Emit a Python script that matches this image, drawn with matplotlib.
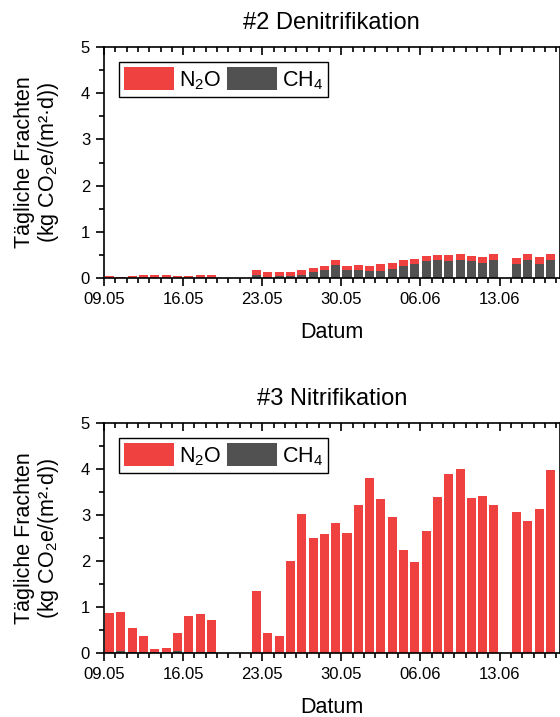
import pandas as pd
import numpy as np
import matplotlib.pyplot as plt
import matplotlib.dates as mdates
from matplotlib.patches import Patch

plt.rcParams['font.family'] = ['Liberation Sans', 'DejaVu Sans']
plt.rcParams['mathtext.fontset'] = 'custom'
plt.rcParams['mathtext.rm'] = 'Liberation Sans'
plt.rcParams['mathtext.it'] = 'Liberation Sans:italic'

# Messtage (keine Werte am 19.-21.05 und 13.06)
dates = ['09.05', '10.05', '11.05', '12.05', '13.05', '14.05', '15.05', '16.05', '17.05', '18.05',
         '22.05', '23.05', '24.05', '25.05', '26.05', '27.05', '28.05', '29.05', '30.05', '31.05',
         '01.06', '02.06', '03.06', '04.06', '05.06', '06.06', '07.06', '08.06', '09.06', '10.06',
         '11.06', '12.06', '14.06', '15.06', '16.06', '17.06']

# #2 Denitrifikation: Gesamt (N2O + CH4) und CH4-Anteil
deni_total = [0.04, 0.03, 0.04, 0.07, 0.07, 0.06, 0.05, 0.04, 0.06, 0.07,
              0.17, 0.12, 0.12, 0.14, 0.17, 0.22, 0.25, 0.40, 0.27, 0.29,
              0.27, 0.30, 0.32, 0.38, 0.42, 0.48, 0.50, 0.49, 0.52, 0.48,
              0.45, 0.52, 0.43, 0.53, 0.46, 0.52]
deni_ch4 = [0.01, 0.01, 0.01, 0.01, 0.01, 0.01, 0.01, 0.01, 0.01, 0.01,
            0.06, 0.03, 0.04, 0.04, 0.07, 0.13, 0.17, 0.29, 0.17, 0.17,
            0.16, 0.16, 0.19, 0.25, 0.30, 0.37, 0.38, 0.37, 0.39, 0.36,
            0.32, 0.39, 0.31, 0.40, 0.31, 0.38]

# #3 Nitrifikation
nitri_total = [0.86, 0.89, 0.55, 0.37, 0.09, 0.11, 0.43, 0.81, 0.84, 0.72,
               1.35, 0.44, 0.36, 2.01, 3.02, 2.50, 2.59, 2.83, 2.61, 3.22,
               3.80, 3.34, 2.96, 2.24, 1.98, 2.65, 3.39, 3.89, 3.99, 3.38,
               3.41, 3.21, 3.07, 2.88, 3.12, 3.98]
nitri_ch4 = [0.02, 0.05, 0.02, 0.03, 0.03, 0.03, 0.04, 0.03, 0.02, 0.02,
             0.01, 0.01, 0.01, 0.01, 0.01, 0.01, 0.01, 0.01, 0.01, 0.01,
             0.01, 0.01, 0.01, 0.01, 0.01, 0.01, 0.01, 0.01, 0.01, 0.01,
             0.01, 0.01, 0.01, 0.01, 0.01, 0.01]

red = '#f04141'
grey = '#515151'

start = pd.Timestamp('2023-05-09')
x = pd.to_datetime([d + '.2023' for d in dates], format='%d.%m.%Y') + pd.Timedelta(hours=12)
x = mdates.date2num(x)
x0 = mdates.date2num(start)

fig = plt.figure(figsize=(5.6, 7.17), dpi=100)
ax1 = fig.add_axes([104/560, 1-278/717, 455.5/560, 231/717])
ax2 = fig.add_axes([104/560, 1-653/717, 455.5/560, 230/717])

panels = [(ax1, '#2 Denitrifikation', deni_total, deni_ch4),
          (ax2, '#3 Nitrifikation', nitri_total, nitri_ch4)]

for ax, title, total, ch4 in panels:
    ch4 = np.array(ch4)
    n2o = np.array(total) - ch4
    ax.bar(x, ch4, width=0.8, color=grey, linewidth=0)
    ax.bar(x, n2o, width=0.8, bottom=ch4, color=red, linewidth=0)

    ax.set_xlim(x0, x0 + 40.3)
    ax.set_ylim(0, 5)
    ax.set_xticks(mdates.date2num(pd.date_range(start, periods=6, freq='7D')))
    ax.xaxis.set_minor_locator(mdates.DayLocator())
    ax.xaxis.set_major_formatter(mdates.DateFormatter('%d.%m'))
    ax.set_yticks(range(6))
    ax.set_yticks(np.arange(0.5, 5, 1), minor=True)

    ax.tick_params(which='both', labelsize=12, width=1.2, pad=4)
    ax.tick_params(axis='x', which='major', direction='out', length=6, top=True)
    ax.tick_params(axis='x', which='minor', direction='out', length=3.5, top=True)
    ax.tick_params(axis='y', which='major', direction='out', length=6, right=True)
    ax.tick_params(axis='y', which='minor', direction='out', length=3.5, right=True)
    for spine in ax.spines.values():
        spine.set_linewidth(1.2)

    ax.set_title(title, fontsize=17, pad=13)
    ax.set_xlabel('Datum', fontsize=15.5, labelpad=11)
    ax.set_ylabel('Tägliche Frachten\n(kg CO$_2$e/(m²·d))', fontsize=15.5,
                  linespacing=1.05, labelpad=14)

    handles = [Patch(facecolor=red, edgecolor='none', label='N$_2$O'),
               Patch(facecolor=grey, edgecolor='none', label='CH$_4$')]
    leg = ax.legend(handles=handles, loc='upper left', ncol=2, fontsize=15.5,
                    handlelength=2.3, handleheight=1.25, handletextpad=0.25,
                    columnspacing=0.25, borderpad=0.25, borderaxespad=0.7,
                    fancybox=False, framealpha=1)
    leg.get_frame().set_edgecolor('black')
    leg.get_frame().set_linewidth(1.0)

# Ticks oben und rechts nach innen
for ax in (ax1, ax2):
    for t in ax.xaxis.get_major_ticks() + ax.xaxis.get_minor_ticks():
        t.tick2line.set_marker(3)
    for t in ax.yaxis.get_major_ticks() + ax.yaxis.get_minor_ticks():
        t.tick2line.set_marker(1)

plt.savefig('out.png', dpi=100)
